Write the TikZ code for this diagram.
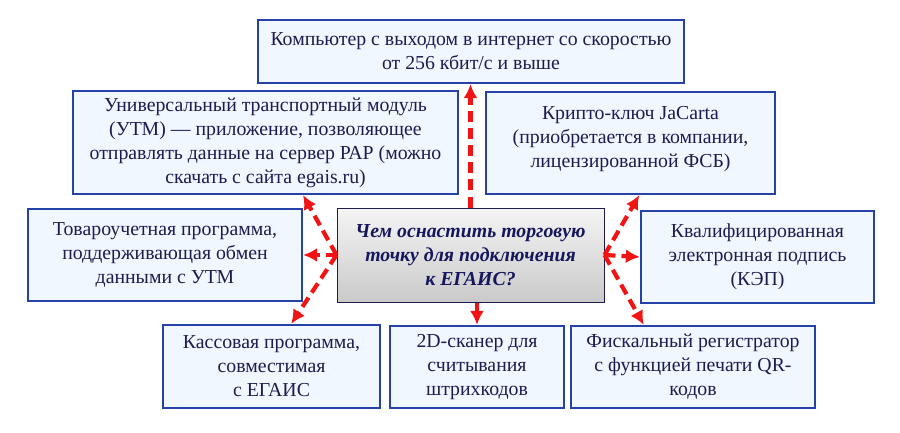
\documentclass[tikz,border=0pt]{standalone}
\usepackage{fontspec}
\setmainfont{Liberation Serif}
\usetikzlibrary{calc,arrows.meta}
\definecolor{boxline}{RGB}{38,66,168}
\definecolor{boxfill}{RGB}{240,247,255}
\definecolor{boxtext}{RGB}{28,28,78}
\definecolor{questtext}{RGB}{22,22,92}
\definecolor{arrowred}{RGB}{240,20,20}

\begin{document}
\begin{tikzpicture}[x=1pt,y=-1pt,
    infobox/.style={draw=boxline,line width=2.2pt,fill=boxfill,text=boxtext,align=center,
        font=\fontsize{19.8}{24}\selectfont,inner sep=0pt},
    questbox/.style={draw=boxtext,line width=1pt,top color=gray!8,bottom color=gray!42,
        text=questtext,align=center,font=\fontsize{19.8}{24}\selectfont\bfseries\itshape,inner sep=0pt},
    link/.style={draw=arrowred,line width=4.2pt,dash pattern=on 11pt off 6pt,
        -{Latex[length=14pt,width=14pt]}}]
        \useasboundingbox (0,0) rectangle (900,433);
        \node[infobox,minimum width=426,minimum height=63] (comp) at (471,51.5)
            {Компьютер с выходом в интернет со скоростью\\от 256 кбит/с и выше};
        \node[infobox,minimum width=385,minimum height=103] (utm) at (265.5,142.5)
            {Универсальный транспортный модуль\\(УТМ) — приложение, позволяющее\\отправлять данные на сервер РАР (можно\\скачать с сайта egais.ru)};
        \node[infobox,minimum width=289,minimum height=102] (crypto) at (630.5,143)
            {Крипто-ключ JaCarta\\(приобретается в компании,\\лицензированной ФСБ)\\[-12pt]\mbox{}};
        \node[infobox,minimum width=274,minimum height=92] (soft) at (165,255)
            {Товароучетная программа,\\поддерживающая обмен\\данными с УТМ};
        \node[questbox,minimum width=267,minimum height=94] (quest) at (470.5,255)
            {Чем оснастить торговую\\точку для подключения\\к ЕГАИС?};
        \node[infobox,minimum width=233,minimum height=92] (kep) at (757.5,257)
            {Квалифицированная\\электронная подпись\\(КЭП)};
        \node[infobox,minimum width=217,minimum height=83] (kassa) at (271.5,366.5)
            {Кассовая программа,\\совместимая\\с ЕГАИС};
        \node[infobox,minimum width=174,minimum height=82] (scan) at (477,367)
            {2D-сканер для\\считывания\\штрихкодов};
        \node[infobox,minimum width=244,minimum height=82] (fiscal) at (693,367)
            {Фискальный регистратор\\с функцией печати QR-\\кодов};
        \coordinate (utmin) at ($(utm.south west)!0.597!(utm.south east)$);
        \coordinate (kassain) at ($(kassa.north west)!0.59!(kassa.north east)$);
        \coordinate (cryptoin) at ($(crypto.south west)!0.53!(crypto.south east)$);
        \coordinate (fiscalin) at ($(fiscal.north west)!0.3!(fiscal.north east)$);
        \foreach \t in {utmin,soft.east,kassain}
        \draw[link] (quest.west) -- (\t);
        \foreach \t in {cryptoin,kep.west,fiscalin}
        \draw[link] (quest.east) -- (\t);
        \draw[link] (quest.north) -- (quest.north |- comp.south);
        \draw[link] (scan.north |- quest.south) -- (scan.north);
    \end{tikzpicture}
\end{document}
